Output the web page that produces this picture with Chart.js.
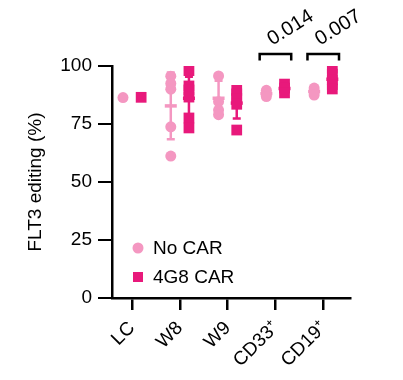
<!DOCTYPE html>
<html>
<head>
<meta charset="utf-8">
<script src="https://cdn.jsdelivr.net/npm/chart.js@4.4.0/dist/chart.umd.min.js"></script>
<style>
html, body { margin: 0; padding: 0; background: #fff; }
canvas { display: block; }
</style>
</head>
<body>
<canvas id="chart" width="403" height="380"></canvas>
<script>
// values
const categories = ['LC', 'W8', 'W9', 'CD33⁺', 'CD19⁺'];
const noCar = [
    [86.4],
    [95.6, 92.5, 90, 73.8, 61.2],
    [95.7, 84.6, 81, 79],
    [89.5, 88, 86.8],
    [90.5, 89, 87.5],
];
const car = [
    [86.5],
    [98, 91.4, 89.7, 86.6, 77.6, 73.3],
    [89.5, 88, 86, 83.5, 72.4],
    [92.2, 90.5, 88.4],
    [99, 96.5, 94, 92, 90.1],
];
const noCarMean = [86.4, 82.8, 86.1, 88.1, 89];
const noCarSd = [0, 14.4, 7.5, 1.3, 1.5];
const carMean = [86.5, 86.1, 84, 90.3, 94.3];
const carSd = [0, 9.3, 6.6, 1.8, 3.6];
const pValues = [null, null, null, '0.014', '0.007'];
const yTicks = [0, 25, 50, 75, 100];

const pinkLight = '#F497C1';
const pinkDark = '#E8197B';
const shift = 0.19;
const FONT = 'Liberation Sans, Arial, Helvetica, sans-serif';

function toPoints(groups, dx) {
    const pts = [];
    groups.forEach((vals, i) => vals.forEach(v => pts.push({ x: i + dx, y: v })));
    return pts;
}

const errorBars = {
    id: 'errorBars',
    beforeDatasetsDraw(chart) {
        const { ctx, scales: { x, y } } = chart;
        const sets = [
            [noCarMean, noCarSd, -shift, pinkLight],
            [carMean, carSd, shift, pinkDark],
        ];
        ctx.save();
        sets.forEach(([mean, sd, dx, color]) => {
            mean.forEach((m, i) => {
                if (!sd[i]) return;
                const px = x.getPixelForValue(i + dx);
                const top = y.getPixelForValue(m + sd[i]);
                const bot = y.getPixelForValue(m - sd[i]);
                const mid = y.getPixelForValue(m);
                ctx.strokeStyle = color;
                ctx.lineWidth = 2.5;
                ctx.beginPath();
                ctx.moveTo(px, top); ctx.lineTo(px, bot);
                ctx.moveTo(px - 4, top); ctx.lineTo(px + 4, top);
                ctx.moveTo(px - 4, bot); ctx.lineTo(px + 4, bot);
                ctx.stroke();
                ctx.lineWidth = 3.5;
                ctx.beginPath();
                ctx.moveTo(px - 6, mid); ctx.lineTo(px + 6, mid);
                ctx.stroke();
            });
        });
        ctx.restore();
    }
};

const brackets = {
    id: 'brackets',
    afterDatasetsDraw(chart) {
        const { ctx, scales: { x, y } } = chart;
        ctx.save();
        pValues.forEach((p, i) => {
            if (!p) return;
            const l = x.getPixelForValue(i - 0.33);
            const r = x.getPixelForValue(i + 0.33);
            const t = y.getPixelForValue(105.2);
            const b = y.getPixelForValue(102.4);
            ctx.strokeStyle = '#000';
            ctx.lineWidth = 2.5;
            ctx.beginPath();
            ctx.moveTo(l, b); ctx.lineTo(l, t); ctx.lineTo(r, t); ctx.lineTo(r, b);
            ctx.stroke();
            ctx.save();
            ctx.translate((l + r) / 2 + 15, t - 26);
            ctx.rotate(-32 * Math.PI / 180);
            ctx.fillStyle = '#000';
            ctx.font = '20px ' + FONT;
            ctx.textAlign = 'center';
            ctx.textBaseline = 'middle';
            ctx.fillText(p, 0, 0);
            ctx.restore();
        });
        ctx.restore();
    }
};

const legendBox = {
    id: 'legendBox',
    afterDraw(chart) {
        const { ctx, chartArea } = chart;
        const lx = chartArea.left + 26;
        const items = [
            { label: 'No CAR', color: pinkLight, round: true, y: 248 },
            { label: '4G8 CAR', color: pinkDark, round: false, y: 277 },
        ];
        ctx.save();
        ctx.font = '19px ' + FONT;
        ctx.textBaseline = 'middle';
        items.forEach(it => {
            ctx.fillStyle = it.color;
            if (it.round) {
                ctx.beginPath();
                ctx.arc(lx, it.y, 5.5, 0, Math.PI * 2);
                ctx.fill();
            } else {
                ctx.fillRect(lx - 5, it.y - 5, 10, 10);
            }
            ctx.fillStyle = '#000';
            ctx.fillText(it.label, lx + 15, it.y + 1);
        });
        ctx.restore();
    }
};

new Chart(document.getElementById('chart'), {
    type: 'scatter',
    data: {
        datasets: [
            {
                label: 'No CAR',
                data: toPoints(noCar, -shift),
                backgroundColor: pinkLight,
                borderColor: pinkLight,
                borderWidth: 0,
                pointStyle: 'circle',
                pointRadius: 5.5,
            },
            {
                label: '4G8 CAR',
                data: toPoints(car, shift),
                backgroundColor: pinkDark,
                borderColor: pinkDark,
                borderWidth: 0,
                pointStyle: 'rect',
                pointRadius: 7.6,
            },
        ],
    },
    options: {
        responsive: false,
        animation: false,
        devicePixelRatio: 1,
        layout: { padding: { top: 66, right: 53, left: 0, bottom: 0 } },
        plugins: {
            legend: { display: false },
            tooltip: { enabled: false },
        },
        scales: {
            x: {
                type: 'linear',
                min: -0.42,
                max: 4.56,
                afterBuildTicks: s => { s.ticks = categories.map((c, i) => ({ value: i })); },
                afterFit: s => { s.height = 82; },
                grid: { drawOnChartArea: false, color: '#000', lineWidth: 2.5, tickLength: 12 },
                border: { color: '#000', width: 2.5 },
                ticks: {
                    autoSkip: false,
                    maxRotation: 45,
                    minRotation: 45,
                    padding: 7,
                    color: '#000',
                    font: { family: FONT, size: 19 },
                    callback: v => categories[v],
                },
            },
            y: {
                min: 0,
                max: 100,
                afterBuildTicks: s => { s.ticks = yTicks.map(v => ({ value: v })); },
                afterFit: s => { s.width = 112; },
                grid: { drawOnChartArea: false, color: '#000', lineWidth: 2, tickLength: 14 },
                border: { color: '#000', width: 2.5 },
                ticks: {
                    padding: 6,
                    color: '#000',
                    font: { family: FONT, size: 19 },
                },
                title: {
                    display: true,
                    text: 'FLT3 editing (%)',
                    color: '#000',
                    font: { family: FONT, size: 19 },
                    padding: { top: 24, bottom: 0 },
                },
            },
        },
    },
    plugins: [errorBars, brackets, legendBox],
});
</script>
</body>
</html>
